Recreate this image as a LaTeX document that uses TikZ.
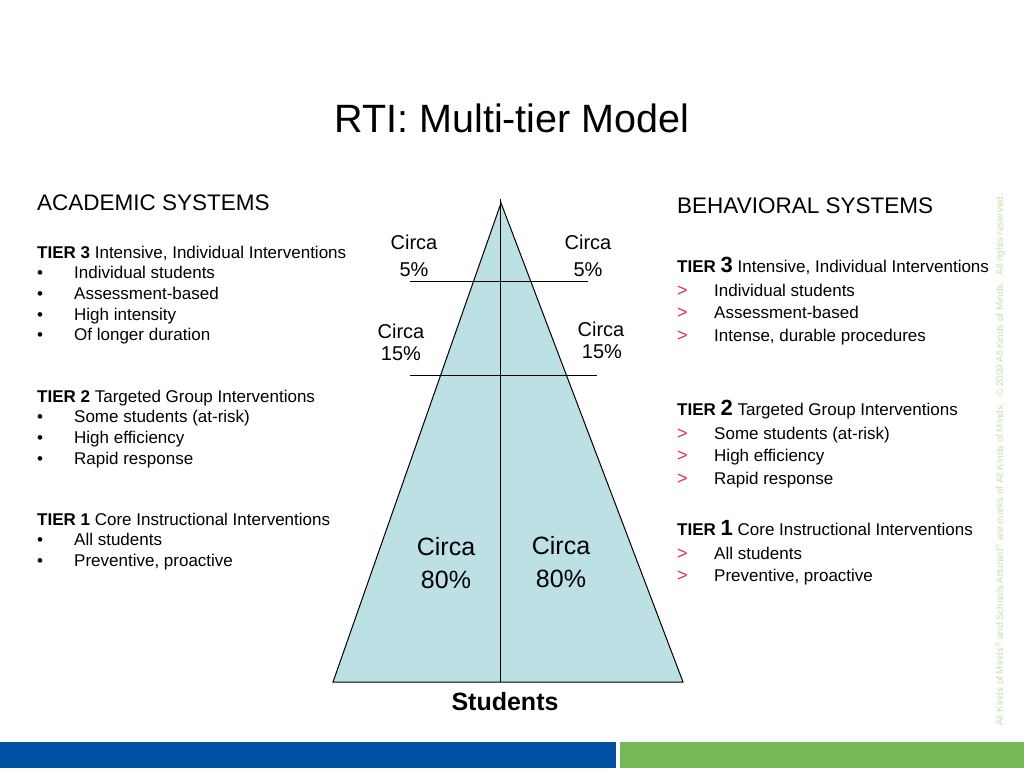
\documentclass[tikz,border=0pt]{standalone}
\usepackage{fontspec}
\setmainfont{Liberation Sans}
\definecolor{pyrfill}{RGB}{188,224,228}
\definecolor{barblue}{RGB}{0,81,162}
\definecolor{bargreen}{RGB}{118,184,86}
\definecolor{markred}{RGB}{222,50,72}
\definecolor{copygreen}{RGB}{195,228,175}
\tikzset{
  txt/.style={inner sep=0pt, anchor=base west, font=\fontsize{17}{20}\selectfont},
  head/.style={inner sep=0pt, anchor=base west, font=\fontsize{22.5}{26}\selectfont},
  circs/.style={inner sep=0pt, anchor=base, font=\fontsize{20}{24}\selectfont},
  circl/.style={inner sep=0pt, anchor=base, font=\fontsize{25}{30}\selectfont},
  redmark/.style={inner sep=0pt, anchor=base west, font=\fontsize{18}{20}\selectfont, text=markred},
  bulletdot/.style={inner sep=0pt, anchor=base west, font=\fontsize{17}{20}\selectfont},
  pline/.style={draw=black, line width=1pt},
}
\newcommand{\tb}[1]{\textbf{#1}}
\begin{document}
\begin{tikzpicture}[x=1pt,y=-1pt]
\useasboundingbox (0,0) rectangle (1024,768);
\fill[white] (0,0) rectangle (1024,768);

% title
\node[inner sep=0pt, anchor=base, font=\fontsize{39.5}{44}\selectfont] (title) at (512,132) {RTI: Multi-tier Model};

% pyramid
\coordinate (apex) at (501,203);
\coordinate (bl) at (333,682);
\coordinate (br) at (683,682);
\coordinate (vtop) at (500.5,199);
\coordinate (vbot) at (500.5,682);
\coordinate (h1l) at (410,281);
\coordinate (h1r) at (588,281);
\coordinate (h2l) at (410,375);
\coordinate (h2r) at (597,375);
\filldraw[fill=pyrfill, pline, line join=miter] (apex) -- (br) -- (bl) -- cycle;
\draw[pline] (vtop) -- (vbot);
\draw[pline] (h1l) -- (h1r);
\draw[pline] (h2l) -- (h2r);

% circa labels
\node[circs] (c1l) at (414,249) {Circa};
\node[circs] (p1l) at (414,276) {5\%};
\node[circs] (c1r) at (588,249) {Circa};
\node[circs] (p1r) at (588,276) {5\%};
\node[circs] (c2l) at (401,338) {Circa};
\node[circs] (p2l) at (401,360) {15\%};
\node[circs] (c2r) at (601,336) {Circa};
\node[circs] (p2r) at (602,358) {15\%};
\node[circl] (c3l) at (446,555) {Circa};
\node[circl] (p3l) at (446,588) {80\%};
\node[circl] (c3r) at (561,554) {Circa};
\node[circl] (p3r) at (561,587) {80\%};
\node[inner sep=0pt, anchor=base, font=\fontsize{25}{30}\selectfont\bfseries] (stud) at (505,710) {Students};

% academic
\node[head] (ah) at (37,210) {ACADEMIC SYSTEMS};
\node[txt] (a3) at (37,258) {\tb{TIER 3} Intensive, Individual Interventions};
\node[bulletdot] (a3d1) at (37,278) {•}; \node[txt] (a3t1) at (74,278) {Individual students};
\node[bulletdot] (a3d2) at (37,299) {•}; \node[txt] (a3t2) at (74,299) {Assessment-based};
\node[bulletdot] (a3d3) at (37,320) {•}; \node[txt] (a3t3) at (74,320) {High intensity};
\node[bulletdot] (a3d4) at (37,340) {•}; \node[txt] (a3t4) at (74,340) {Of longer duration};
\node[txt] (a2) at (37,402) {\tb{TIER 2} Targeted Group Interventions};
\node[bulletdot] (a2d1) at (37,422) {•}; \node[txt] (a2t1) at (74,422) {Some students (at-risk)};
\node[bulletdot] (a2d2) at (37,443) {•}; \node[txt] (a2t2) at (74,443) {High efficiency};
\node[bulletdot] (a2d3) at (37,464) {•}; \node[txt] (a2t3) at (74,464) {Rapid response};
\node[txt] (a1) at (37,525) {\tb{TIER 1} Core Instructional Interventions};
\node[bulletdot] (a1d1) at (37,545) {•}; \node[txt] (a1t1) at (74,545) {All students};
\node[bulletdot] (a1d2) at (37,566) {•}; \node[txt] (a1t2) at (74,566) {Preventive, proactive};

% behavioral
\node[head] (bh) at (677,213) {BEHAVIORAL SYSTEMS};
\node[txt] (b3) at (677,272) {\tb{TIER {\fontsize{22}{26}\selectfont 3}} Intensive, Individual Interventions};
\node[redmark] (b3m1) at (677,296) {>}; \node[txt] (b3t1) at (714,296) {Individual students};
\node[redmark] (b3m2) at (677,318) {>}; \node[txt] (b3t2) at (714,318) {Assessment-based};
\node[redmark] (b3m3) at (677,341) {>}; \node[txt] (b3t3) at (714,341) {Intense, durable procedures};
\node[txt] (b2) at (677,415) {\tb{TIER {\fontsize{22}{26}\selectfont 2}} Targeted Group Interventions};
\node[redmark] (b2m1) at (677,439) {>}; \node[txt] (b2t1) at (714,439) {Some students (at-risk)};
\node[redmark] (b2m2) at (677,461) {>}; \node[txt] (b2t2) at (714,461) {High efficiency};
\node[redmark] (b2m3) at (677,484) {>}; \node[txt] (b2t3) at (714,484) {Rapid response};
\node[txt] (b1) at (677,535) {\tb{TIER {\fontsize{22}{26}\selectfont 1}} Core Instructional Interventions};
\node[redmark] (b1m1) at (677,559) {>}; \node[txt] (b1t1) at (714,559) {All students};
\node[redmark] (b1m2) at (677,581) {>}; \node[txt] (b1t2) at (714,581) {Preventive, proactive};

% copyright
\node[inner sep=0pt, rotate=90, text=copygreen, font=\fontsize{9.8}{11}\selectfont] (copy) at (1000,460)
  {All Kinds of Minds\textsuperscript{®} and Schools Attuned\textsuperscript{®} are marks of All Kinds of Minds. \ © 2009 All Kinds of Minds. \ All rights reserved.};

% bottom bars
\fill[barblue] (0,742) rectangle (616,768);
\fill[bargreen] (620,742) rectangle (1024,768);
\end{tikzpicture}
\end{document}
